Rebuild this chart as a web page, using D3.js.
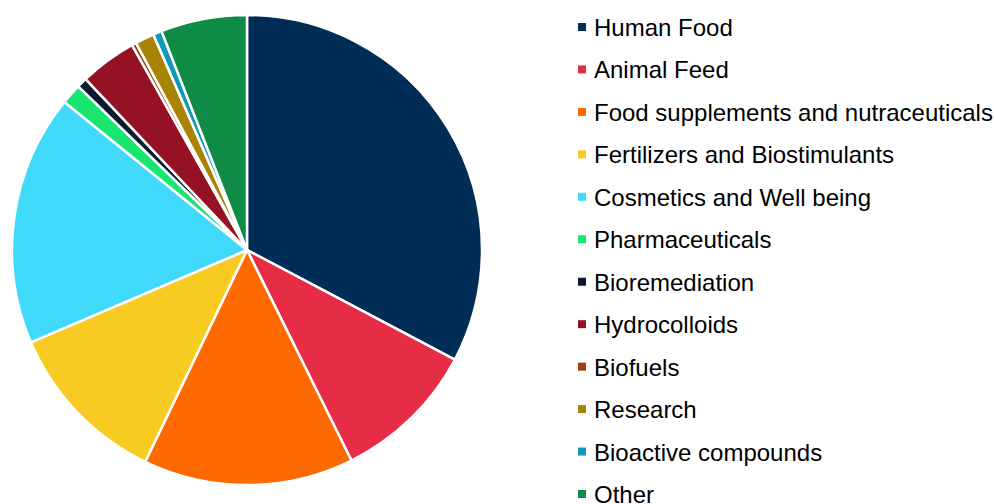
<!DOCTYPE html>
<html>
<head>
<meta charset="utf-8">
<script src="https://cdn.jsdelivr.net/npm/d3@7"></script>
<style>
  body { margin: 0; background: #fff; }
  svg { display: block; }
  .legend text { font-family: "Liberation Sans", Arial, sans-serif; font-size: 24px; fill: #000; }
</style>
</head>
<body>
<div id="chart"></div>
<script>
// categories, shares (%), colours
const categories = ["Human Food", "Animal Feed", "Food supplements and nutraceuticals",
    "Fertilizers and Biostimulants", "Cosmetics and Well being", "Pharmaceuticals",
    "Bioremediation", "Hydrocolloids", "Biofuels", "Research", "Bioactive compounds", "Other"];
const shares = [32.6, 9.9, 14.4, 11.4, 17.2, 1.4, 0.7, 3.9, 0.3, 1.3, 0.6, 5.9];
const colors = ["#002d56", "#e72c46", "#ff6a00", "#f8cb22", "#40d9f9", "#19e671",
    "#0a1a30", "#951124", "#a0410d", "#a88404", "#1199b9", "#0e8b45"];

const data = categories.map((c, i) => ({name: c, value: shares[i]}));

const width = 994, height = 504;
const cx = 247, cy = 250, r = 235;

const svg = d3.select("#chart").append("svg")
    .attr("width", width).attr("height", height);

const color = d3.scaleOrdinal().domain(categories).range(colors);

// pie, clockwise from 12 o'clock in data order
const pie = d3.pie().sort(null).value(d => d.value);
const arc = d3.arc().innerRadius(0).outerRadius(r);

const g = svg.append("g").attr("transform", "translate(" + cx + "," + cy + ")");
g.selectAll("path").data(pie(data)).enter().append("path")
    .attr("d", arc)
    .attr("fill", d => color(d.data.name))
    .attr("stroke", "#fff")
    .attr("stroke-width", 2.5)
    .attr("stroke-linejoin", "round");

// legend
const ly = d3.scalePoint().domain(categories).range([27, 494]);
const leg = svg.append("g").attr("class", "legend");
const row = leg.selectAll("g").data(categories).enter().append("g")
    .attr("transform", d => "translate(578," + ly(d) + ")");
row.append("rect")
    .attr("x", 0).attr("y", -4).attr("width", 8).attr("height", 8)
    .attr("fill", d => color(d));
row.append("text")
    .attr("x", 16).attr("y", 9)
    .text(d => d);
</script>
</body>
</html>
